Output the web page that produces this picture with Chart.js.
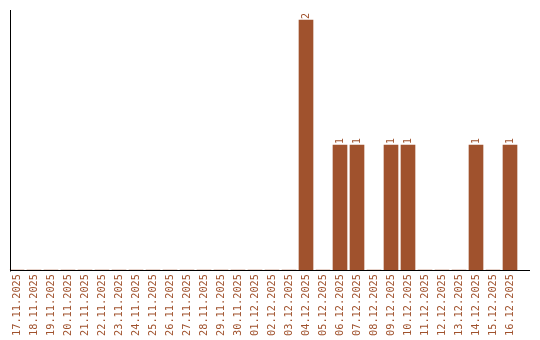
<!DOCTYPE html>
<html>
<head>
<meta charset="utf-8">
<script src="https://cdn.jsdelivr.net/npm/chart.js@4"></script>
<style>
body { margin: 0; background: #fff; }
#wrap { width: 540px; height: 340px; }
</style>
</head>
<body>
<div id="wrap"><canvas id="bar-chart" width="540" height="340"></canvas></div>
<script>
const dates = [
    "17.11.2025", "18.11.2025", "19.11.2025", "20.11.2025", "21.11.2025",
    "22.11.2025", "23.11.2025", "24.11.2025", "25.11.2025", "26.11.2025",
    "27.11.2025", "28.11.2025", "29.11.2025", "30.11.2025", "01.12.2025",
    "02.12.2025", "03.12.2025", "04.12.2025", "05.12.2025", "06.12.2025",
    "07.12.2025", "08.12.2025", "09.12.2025", "10.12.2025", "11.12.2025",
    "12.12.2025", "13.12.2025", "14.12.2025", "15.12.2025", "16.12.2025"
];
const counts = [
    0, 0, 0, 0, 0, 0, 0, 0, 0, 0,
    0, 0, 0, 0, 0, 0, 0, 2, 0, 1,
    1, 0, 1, 1, 0, 0, 0, 1, 0, 1
];

const barColor = "#a0522d";
const fontFamily = "'DejaVu Sans Mono', monospace";

// axis lines + the count written above each bar
const decorations = {
    id: "decorations",
    afterDatasetsDraw(chart) {
        const ctx = chart.ctx;
        const area = chart.chartArea;
        ctx.save();
        ctx.strokeStyle = "#000";
        ctx.lineWidth = 1;
        ctx.beginPath();
        ctx.moveTo(10.5, area.top);
        ctx.lineTo(10.5, area.bottom + 1.5);
        ctx.moveTo(10, area.bottom + 0.5);
        ctx.lineTo(chart.width - 10, area.bottom + 0.5);
        ctx.stroke();

        ctx.fillStyle = barColor;
        ctx.font = "10px " + fontFamily;
        ctx.textAlign = "left";
        ctx.textBaseline = "middle";
        chart.getDatasetMeta(0).data.forEach(function (bar, i) {
            if (!counts[i]) return;
            ctx.save();
            ctx.translate(bar.x, bar.y - 1);
            ctx.rotate(-Math.PI / 2);
            ctx.fillText(String(counts[i]), 0, 0);
            ctx.restore();
        });
        ctx.restore();
    }
};

var barChart = new Chart(document.getElementById("bar-chart").getContext("2d"), {
    type: "bar",
    data: {
        labels: dates,
        datasets: [{
            data: counts,
            backgroundColor: barColor,
            borderWidth: 0,
            barThickness: 14
        }]
    },
    options: {
        responsive: false,
        animation: false,
        layout: { padding: { left: 8.5, top: 10, right: 21.5, bottom: 0 } },
        plugins: {
            legend: { display: false },
            tooltip: { enabled: false }
        },
        scales: {
            x: {
                grid: { display: false, drawTicks: false },
                border: { display: false },
                ticks: {
                    color: barColor,
                    font: { family: fontFamily, size: 10.3 },
                    minRotation: 90,
                    maxRotation: 90,
                    autoSkip: false,
                    padding: 4
                },
                afterFit: function (scale) { scale.height = 70; }
            },
            y: {
                display: false,
                min: 0,
                max: 2.08
            }
        }
    },
    plugins: [decorations]
});
</script>
</body>
</html>
